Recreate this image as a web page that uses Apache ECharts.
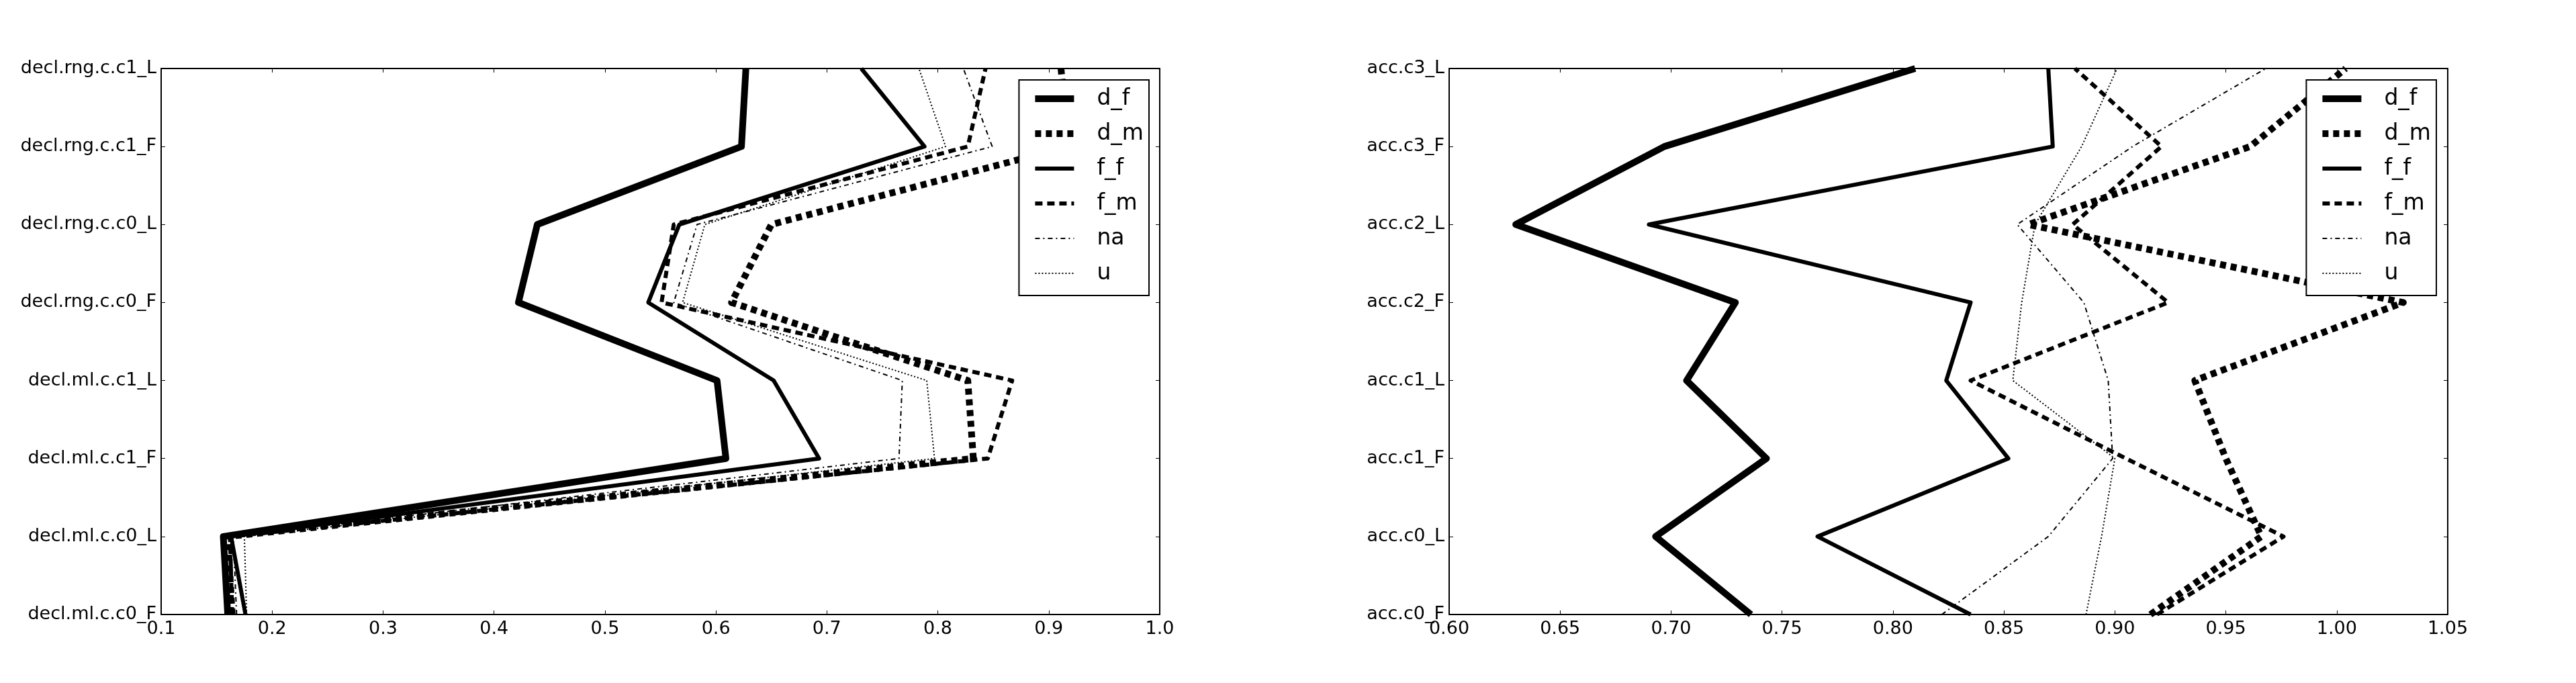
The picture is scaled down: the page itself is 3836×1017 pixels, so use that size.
<!DOCTYPE html>
<html>
<head>
<meta charset="utf-8">
<script src="https://cdn.jsdelivr.net/npm/echarts@6/dist/echarts.min.js"></script>
<style>
html, body { margin: 0; padding: 0; background: #fff; }
#chart { width: 3836px; height: 1017px; }
</style>
</head>
<body>
<div id="chart"></div>
<script>
// categories, bottom to top
var declCats = ["decl.ml.c.c0_F", "decl.ml.c.c0_L", "decl.ml.c.c1_F", "decl.ml.c.c1_L",
  "decl.rng.c.c0_F", "decl.rng.c.c0_L", "decl.rng.c.c1_F", "decl.rng.c.c1_L"];
var accCats = ["acc.c0_F", "acc.c0_L", "acc.c1_F", "acc.c1_L",
  "acc.c2_F", "acc.c2_L", "acc.c3_F", "acc.c3_L"];
var seriesNames = ["d_f", "d_m", "f_f", "f_m", "na", "u"];

// left panel
var declDf = [0.160, 0.156, 0.609, 0.601, 0.422, 0.439, 0.623, 0.627];
var declDm = [0.164, 0.160, 0.832, 0.827, 0.614, 0.650, 0.918, 0.911];
var declFf = [0.176, 0.163, 0.693, 0.652, 0.539, 0.567, 0.788, 0.731];
var declFm = [0.164, 0.162, 0.845, 0.867, 0.551, 0.562, 0.827, 0.843];
var declNa = [0.168, 0.165, 0.765, 0.768, 0.562, 0.583, 0.849, 0.823];
var declU = [0.177, 0.175, 0.797, 0.790, 0.570, 0.590, 0.807, 0.783];

// right panel
var accDf = [0.736, 0.693, 0.743, 0.707, 0.729, 0.630, 0.697, 0.810];
var accDm = [0.916, 0.966, 0.950, 0.936, 1.030, 0.861, 0.961, 1.004];
var accFf = [0.835, 0.766, 0.852, 0.824, 0.835, 0.690, 0.872, 0.870];
var accFm = [0.919, 0.976, 0.905, 0.835, 0.924, 0.881, 0.921, 0.882];
var accNa = [0.822, 0.870, 0.899, 0.897, 0.886, 0.856, 0.908, 0.968];
var accU = [0.887, 0.894, 0.900, 0.854, 0.858, 0.864, 0.885, 0.901];

var declTicks = { min: 0.1, max: 1.0, interval: 0.1, digits: 1 };
var accTicks = { min: 0.6, max: 1.05, interval: 0.05, digits: 2 };

var lineStyles = {
  d_f: { width: 10, type: "solid" },
  d_m: { width: 10, type: [9, 7] },
  f_f: { width: 6, type: "solid" },
  f_m: { width: 6, type: [11, 7] },
  na: { width: 2, type: [7, 5, 2, 5] },
  u: { width: 2, type: [2, 3] }
};

var font = "DejaVu Sans";
var grids = [
  { left: 240, right: 2109, top: 102, bottom: 102 },
  { left: 2158, right: 191, top: 102, bottom: 102 }
];

function xAxes(ticks, gridIndex) {
  var base = {
    type: "value",
    gridIndex: gridIndex,
    min: ticks.min,
    max: ticks.max,
    interval: ticks.interval,
    splitLine: { show: false },
    axisLine: { show: true, onZero: false, lineStyle: { color: "#000", width: 2 } },
    axisTick: { show: true, inside: true, length: 6, lineStyle: { color: "#000", width: 1 } }
  };
  var bottom = Object.assign({}, base, {
    position: "bottom",
    axisLabel: {
      show: true, margin: 8, color: "#000", fontSize: 27, fontFamily: font,
      showMinLabel: true, showMaxLabel: true,
      formatter: function (v) { return v.toFixed(ticks.digits); }
    }
  });
  var top = Object.assign({}, base, { position: "top", axisLabel: { show: false } });
  return [bottom, top];
}

function yAxes(cats, gridIndex) {
  var base = {
    type: "category",
    gridIndex: gridIndex,
    data: cats,
    boundaryGap: false,
    splitLine: { show: false },
    axisLine: { show: true, onZero: false, lineStyle: { color: "#000", width: 2 } },
    axisTick: { show: true, inside: true, length: 6, interval: 0, lineStyle: { color: "#000", width: 1 } }
  };
  var left = Object.assign({}, base, {
    position: "left",
    axisLabel: { show: true, interval: 0, margin: 7, color: "#000", fontSize: 27, fontFamily: font }
  });
  var right = Object.assign({}, base, { position: "right", axisLabel: { show: false } });
  return [left, right];
}

function makeSeries(lists, xi, yi) {
  return seriesNames.map(function (name, i) {
    var st = lineStyles[name];
    return {
      name: name,
      type: "line",
      xAxisIndex: xi,
      yAxisIndex: yi,
      symbol: "none",
      color: "#000",
      lineStyle: { color: "#000", width: st.width, type: st.type, cap: "butt", join: "round" },
      data: lists[i].map(function (v, k) { return [v, k]; })
    };
  });
}

function legendAt(right) {
  return {
    data: seriesNames.map(function (name) {
      var st = lineStyles[name];
      return { name: name, lineStyle: { color: "#000", width: st.width, type: st.type, cap: "butt" } };
    }),
    orient: "vertical",
    right: right,
    top: 119,
    itemWidth: 58,
    itemHeight: 14,
    itemGap: 12,
    padding: [8, 8, 13, 19],
    borderColor: "#000",
    borderWidth: 2,
    backgroundColor: "#fff",
    selectedMode: false,
    itemStyle: { opacity: 0 },
    textStyle: { color: "#000", fontSize: 33, fontFamily: font, lineHeight: 40, padding: [0, 0, 0, 29] }
  };
}

var dx = xAxes(declTicks, 0), ax = xAxes(accTicks, 1);
var dy = yAxes(declCats, 0), ay = yAxes(accCats, 1);

var option = {
  animation: false,
  backgroundColor: "#fff",
  grid: grids,
  xAxis: [dx[0], dx[1], ax[0], ax[1]],
  yAxis: [dy[0], dy[1], ay[0], ay[1]],
  legend: [legendAt(3836 - 1711), legendAt(3836 - 3628)],
  series: makeSeries([declDf, declDm, declFf, declFm, declNa, declU], 0, 0)
    .concat(makeSeries([accDf, accDm, accFf, accFm, accNa, accU], 2, 2))
};

var chart = echarts.init(document.getElementById("chart"));
chart.setOption(option);
</script>
</body>
</html>
